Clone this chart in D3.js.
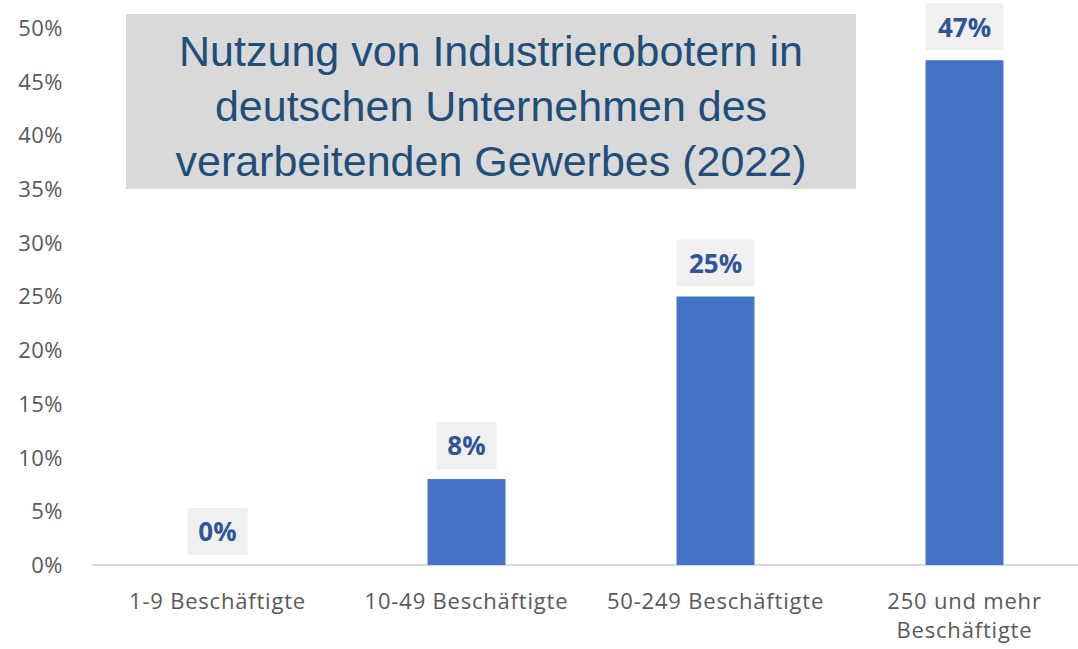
<!DOCTYPE html>
<html>
<head>
<meta charset="utf-8">
<script src="https://cdn.jsdelivr.net/npm/d3@7"></script>
<style>
  body { margin: 0; background: #fff; }
</style>
</head>
<body>
<div id="chart"></div>
<script>
// Chart data
const categories = ['1-9 Beschäftigte', '10-49 Beschäftigte', '50-249 Beschäftigte', '250 und mehr Beschäftigte'];
const categoryLines = [['1-9 Beschäftigte'], ['10-49 Beschäftigte'], ['50-249 Beschäftigte'], ['250 und mehr', 'Beschäftigte']];
const values = [0, 8, 25, 47];
const yTicks = [0, 5, 10, 15, 20, 25, 30, 35, 40, 45, 50];
const titleLines = ['Nutzung von Industrierobotern in', 'deutschen Unternehmen des', 'verarbeitenden Gewerbes (2022)'];

const W = 1078, H = 649;
const svg = d3.select('#chart').append('svg')
    .attr('width', W)
    .attr('height', H);

const x = d3.scaleBand()
    .domain(categories)
    .range([93, 1089])
    .paddingInner(0.687)
    .paddingOuter(0.3435);

const y = d3.scaleLinear()
    .domain([0, 50])
    .range([565, 28]);

// y tick labels (no axis line)
svg.append('g')
    .selectAll('text')
    .data(yTicks)
    .join('text')
    .attr('x', 63)
    .attr('y', d => y(d))
    .attr('dy', '0.36em')
    .attr('text-anchor', 'end')
    .attr('font-family', 'Open Sans, sans-serif')
    .attr('font-size', 22)
    .attr('letter-spacing', 0.5)
    .attr('fill', '#595959')
    .text(d => d + '%');

// baseline
svg.append('line')
    .attr('x1', 92).attr('x2', W)
    .attr('y1', y(0)).attr('y2', y(0))
    .attr('stroke', '#d9d9d9')
    .attr('stroke-width', 2);

// bars
svg.append('g')
    .selectAll('rect')
    .data(values)
    .join('rect')
    .attr('x', (d, i) => x(categories[i]))
    .attr('y', d => y(d))
    .attr('width', x.bandwidth())
    .attr('height', d => y(0) - y(d))
    .attr('fill', '#4472c4');

// data labels with light boxes
const labels = svg.append('g')
    .selectAll('g')
    .data(values)
    .join('g')
    .attr('transform', (d, i) => `translate(${x(categories[i]) + x.bandwidth() / 2},${y(d) - 33})`);

labels.append('rect')
    .attr('x', d => d >= 10 ? -39 : -30)
    .attr('y', -24)
    .attr('width', d => d >= 10 ? 78 : 60)
    .attr('height', 47)
    .attr('fill', '#f0f0f0');

labels.append('text')
    .attr('text-anchor', 'middle')
    .attr('dy', '0.36em')
    .attr('font-family', 'Open Sans, sans-serif')
    .attr('font-weight', 'bold')
    .attr('font-size', 26)
    .attr('fill', '#2f5597')
    .text(d => d + '%');

// category labels
const cat = svg.append('g')
    .selectAll('text')
    .data(categoryLines)
    .join('text')
    .attr('x', (d, i) => x(categories[i]) + x.bandwidth() / 2)
    .attr('y', d => d.length > 1 ? 609 : 609)
    .attr('text-anchor', 'middle')
    .attr('font-family', 'Open Sans, sans-serif')
    .attr('font-size', 22)
    .attr('letter-spacing', 0.8)
    .attr('fill', '#595959');

cat.selectAll('tspan')
    .data(d => d)
    .join('tspan')
    .attr('x', function () { return this.parentNode.getAttribute('x'); })
    .attr('dy', (d, i) => i === 0 ? 0 : 29)
    .text(d => d);

// title box
svg.append('rect')
    .attr('x', 126)
    .attr('y', 14)
    .attr('width', 730)
    .attr('height', 175)
    .attr('fill', '#d9d9d9');

svg.append('g')
    .selectAll('text')
    .data(titleLines)
    .join('text')
    .attr('x', 491)
    .attr('y', (d, i) => 66 + i * 55)
    .attr('text-anchor', 'middle')
    .attr('font-family', 'Liberation Sans, Arial, sans-serif')
    .attr('font-size', 43)
    .attr('fill', '#1f4e79')
    .text(d => d);
</script>
</body>
</html>
